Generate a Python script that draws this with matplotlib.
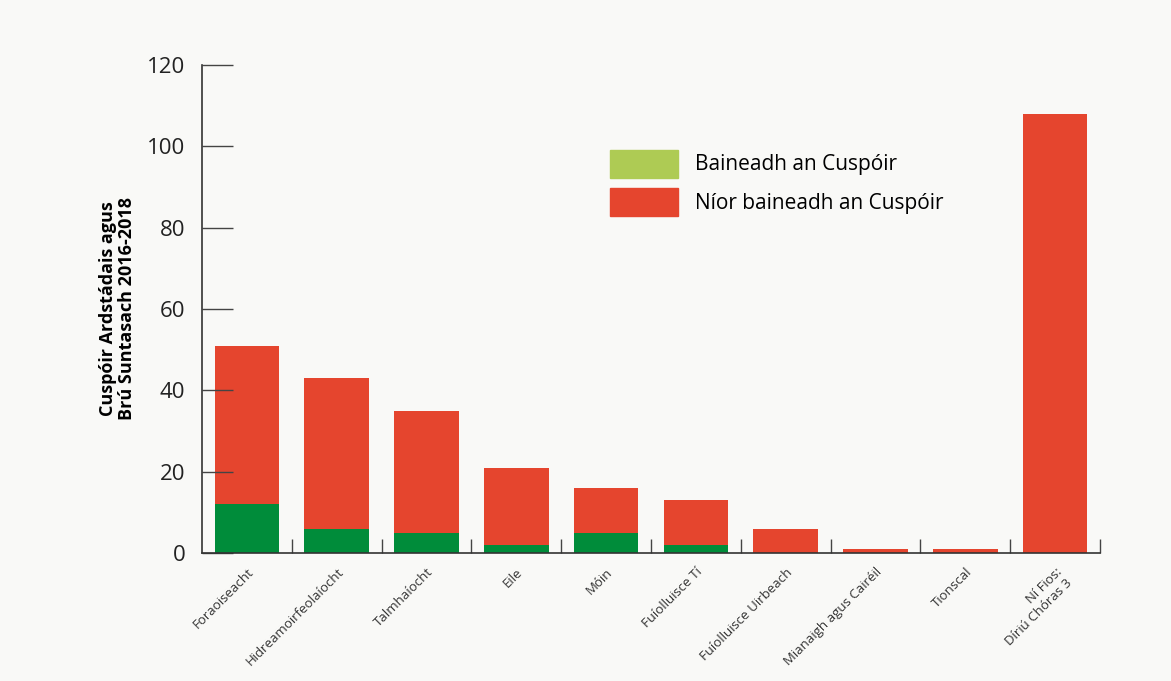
import numpy as np
import matplotlib.pyplot as plt
from matplotlib.patches import Patch

# data
categories = ['Foraoiseacht', 'Hidreamoirfeolaíocht', 'Talmhaíocht', 'Eile', 'Móin',
              'Fuíolluisce Tí', 'Fuíolluisce Uirbeach', 'Mianaigh agus Cairéil',
              'Tionscal', 'Ní Fios:\nDíriú Chóras 3']
met = [12, 6, 5, 2, 5, 2, 0, 0, 0, 0]
totals = [51, 43, 35, 21, 16, 13, 6, 1, 1, 108]
not_met = [t - m for t, m in zip(totals, met)]

plt.rcParams['font.family'] = ['Open Sans', 'DejaVu Sans']
bg = '#f9f9f7'
green = '#008c3a'
light_green = '#aecb54'
red = '#e5452e'

fig = plt.figure(figsize=(11.71, 6.81), dpi=100, facecolor=bg)
ax = fig.add_axes([202/1171, 128/681, 898/1171, 488/681], facecolor=bg)

x = np.arange(len(categories))
ax.bar(x, met, width=0.72, color=green)
ax.bar(x, not_met, bottom=met, width=0.72, color=red)

ax.set_xlim(-0.5, len(categories) - 0.5)
ax.set_ylim(0, 120)
ax.set_yticks(range(0, 121, 20))
ax.tick_params(axis='y', direction='in', length=22, width=1, color='#444444',
               labelsize=16, pad=12, labelcolor='#222222')

# category labels at bar centres, ticks at the boundaries
ax.set_xticks(x)
ax.set_xticklabels(categories, rotation=45, ha='right', rotation_mode='anchor',
                   fontsize=9.5, color='#333333')
ax.tick_params(axis='x', which='major', length=0, pad=9)
ax.set_xticks(x + 0.5, minor=True)
ax.tick_params(axis='x', which='minor', direction='in', length=10, width=1, color='#444444')

for s in ['top', 'right']:
    ax.spines[s].set_visible(False)
for s in ['left', 'bottom']:
    ax.spines[s].set_color('#333333')
    ax.spines[s].set_linewidth(1.2)

ax.set_ylabel('Cuspóir Ardstádais agus\nBrú Suntasach 2016-2018', fontsize=13,
              fontweight='bold', labelpad=8, linespacing=1.1)

handles = [Patch(color=light_green, label='Baineadh an Cuspóir'),
           Patch(color=red, label='Níor baineadh an Cuspóir')]
ax.legend(handles=handles, loc='upper left', bbox_to_anchor=(0.433, 0.865),
          frameon=False, fontsize=15, handlelength=3.3, handleheight=1.7,
          labelspacing=0.5, handletextpad=0.8)

plt.savefig('out.png', dpi=100, facecolor=bg)
